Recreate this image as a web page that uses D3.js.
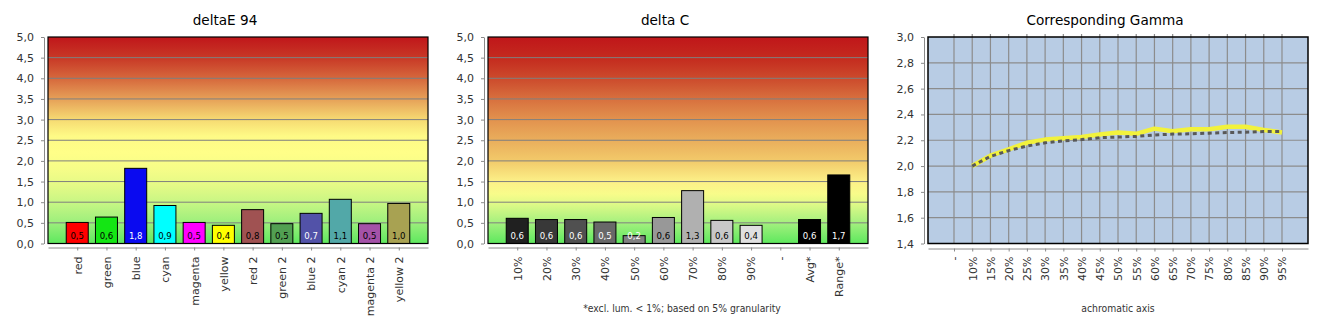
<!DOCTYPE html>
<html><head><meta charset="utf-8">
<script src="https://cdn.jsdelivr.net/npm/d3@7"></script>
<style>
html,body{margin:0;padding:0;background:#fff;}
svg{display:block;font-family:"DejaVu Sans",sans-serif;}
.cond{font-family:"DejaVu Sans Condensed","DejaVu Sans",sans-serif;font-stretch:condensed;}
</style></head>
<body>
<svg id="c" width="1330" height="330"></svg>
<script>
// ---------- data ----------
const deCategories = ["red","green","blue","cyan","magenta","yellow","red 2","green 2","blue 2","cyan 2","magenta 2","yellow 2"];
const deValues     = [0.51, 0.64, 1.82, 0.92, 0.51, 0.44, 0.82, 0.48, 0.73, 1.07, 0.48, 0.97];
const deColors     = ["#ff0000","#14e614","#0a0af0","#00ffff","#ff00ff","#ffff00","#a05252","#52a052","#5252a8","#52a8a8","#a452a8","#a8a252"];
const deLabelCol   = ["#000","#000","#fff","#000","#000","#000","#000","#000","#fff","#000","#000","#000"];

const dcCategories = ["10%","20%","30%","40%","50%","60%","70%","80%","90%","-","Avg*","Range*"];
const dcValues     = [0.61, 0.58, 0.58, 0.52, 0.19, 0.63, 1.28, 0.56, 0.44, null, 0.58, 1.66];
const dcColors     = ["#202020","#383838","#505050","#686868","#808080","#989898","#b0b0b0","#c8c8c8","#e0e0e0","#000","#000000","#000000"];
const dcLabelCol   = ["#fff","#fff","#fff","#fff","#fff","#000","#000","#000","#000","#000","#fff","#fff"];

const barTicks = [0,0.5,1,1.5,2,2.5,3,3.5,4,4.5,5];

const gCategories = ["-","10%","15%","20%","25%","30%","35%","40%","45%","50%","55%","60%","65%","70%","75%","80%","85%","90%","95%"];
const gMeasured   = [null,2.00,2.08,2.13,2.18,2.205,2.215,2.225,2.245,2.26,2.25,2.29,2.27,2.285,2.285,2.305,2.305,2.28,2.26];
const gReference  = [null,2.00,2.075,2.12,2.155,2.18,2.195,2.205,2.22,2.225,2.23,2.24,2.248,2.25,2.255,2.26,2.262,2.268,2.268];
const gTicks = [1.4,1.6,1.8,2.0,2.2,2.4,2.6,2.8,3.0];

const titles = ["deltaE 94","delta C","Corresponding Gamma"];
const footDC = "*excl. lum. < 1%; based on 5% granularity";
const footG  = "achromatic axis";

// ---------- helpers ----------
const svg = d3.select("#c");
const defs = svg.append("defs");
const fmt = v => d3.format(".1f")(v).replace(".", ",");
const TOP = 37, BOT = 243.5, PL = 48, PR = 428;

function gradient(id, stops){
  const g = defs.append("linearGradient").attr("id", id)
    .attr("gradientUnits","userSpaceOnUse").attr("x1",0).attr("x2",0).attr("y1",TOP).attr("y2",BOT);
  stops.forEach(s => g.append("stop").attr("offset", (1 - s[0]/5)).attr("stop-color", s[1]));
}
gradient("g1", [[5,"#c0161a"],[4.5,"#c83826"],[4,"#d6683c"],[3.5,"#e6a058"],[3,"#f6da72"],[2.6,"#fefa86"],[2.2,"#ffff88"],[1.8,"#f6fd88"],[1.4,"#e4fa86"],[1,"#c8f684"],[0.5,"#9cef7c"],[0,"#5ee85e"]]);
gradient("g2", [[5,"#c0161a"],[4.5,"#c42a1e"],[4,"#cc4a2c"],[3.5,"#d8703e"],[3,"#e2924e"],[2.5,"#eaae5c"],[2,"#f2ca6a"],[1.5,"#fcf088"],[1.2,"#f8fc8a"],[1,"#e4fa88"],[0.5,"#a4f07e"],[0,"#5ee85e"]]);

function styleAxis(g){
  g.selectAll("path.domain").attr("stroke","#8a8a8a");
  g.selectAll(".tick line").attr("stroke","#8a8a8a");
  g.selectAll(".tick text").attr("fill","#333").attr("font-size",11).attr("font-family","DejaVu Sans");
}

function title(off, t){
  svg.append("text").attr("x", off+225).attr("y", 25).attr("text-anchor","middle")
    .attr("font-size",13.6).attr("fill","#000").text(t);
}

function barPanel(off, cats, vals, cols, lcols, grad, foot){
  const x = d3.scalePoint().domain(cats).range([off+PL, off+PR]).padding(1);
  const y = d3.scaleLinear().domain([0,5]).range([BOT, TOP]);
  const g = svg.append("g");
  g.append("rect").attr("x", off+PL).attr("y", TOP).attr("width", PR-PL).attr("height", BOT-TOP)
    .attr("fill", `url(#${grad})`);
  g.selectAll("line.grid").data(barTicks.slice(1,-1)).join("line")
    .attr("x1", off+PL).attr("x2", off+PR).attr("y1", d=>y(d)).attr("y2", d=>y(d))
    .attr("stroke","#7f7f7f").attr("stroke-width",1);
  const data = cats.map((c,i)=>({c, v:vals[i], col:cols[i], lc:lcols[i]})).filter(d=>d.v!=null);
  const bw = 22;
  g.selectAll("rect.bar").data(data).join("rect")
    .attr("x", d=>x(d.c)-bw/2).attr("width", bw)
    .attr("y", d=>y(d.v)).attr("height", d=>y(0)-y(d.v))
    .attr("fill", d=>d.col).attr("stroke","#000").attr("stroke-width",1);
  g.selectAll("text.lab").data(data).join("text").attr("class","cond")
    .attr("x", d=>x(d.c)).attr("y", y(0)-4.5).attr("text-anchor","middle")
    .attr("font-size",9.5).attr("fill", d=>d.lc).text(d=>fmt(d.v));
  g.append("rect").attr("x", off+PL).attr("y", TOP).attr("width", PR-PL).attr("height", BOT-TOP)
    .attr("fill","none").attr("stroke","#000").attr("stroke-width",1.2);
  // axes
  const ya = svg.append("g").attr("transform",`translate(${off+44},0)`)
    .call(d3.axisLeft(y).tickValues(barTicks).tickFormat(fmt).tickSize(3).tickSizeOuter(0).tickPadding(7));
  styleAxis(ya);
  const xa = svg.append("g").attr("transform",`translate(0,247.5)`)
    .call(d3.axisBottom(x).tickSize(3).tickSizeOuter(0));
  styleAxis(xa);
  xa.selectAll(".tick text").attr("transform","rotate(-90)").attr("x",-9).attr("y",0)
    .attr("dy","0.35em").attr("text-anchor","end");
  if (foot) svg.append("text").attr("class","cond").attr("x", off+242).attr("y",312)
    .attr("text-anchor","middle").attr("font-size",10.3).attr("fill","#333").text(foot);
}

barPanel(0, deCategories, deValues, deColors, deLabelCol, "g1", null);
barPanel(440, dcCategories, dcValues, dcColors, dcLabelCol, "g2", footDC);

// ---------- gamma panel ----------
(function(){
  const off = 880;
  const x = d3.scalePoint().domain(gCategories).range([off+PL, off+PR]).padding(1.427);
  const y = d3.scaleLinear().domain([1.4,3.0]).range([BOT, TOP]);
  const g = svg.append("g");
  g.append("rect").attr("x", off+PL).attr("y", TOP).attr("width", PR-PL).attr("height", BOT-TOP).attr("fill","#b8cce4");
  g.selectAll("line.hg").data(gTicks.slice(1,-1)).join("line")
    .attr("x1", off+PL).attr("x2", off+PR).attr("y1", d=>y(d)).attr("y2", d=>y(d))
    .attr("stroke","#8c8c8c").attr("stroke-width",1.2);
  g.selectAll("line.vg").data(gCategories).join("line")
    .attr("x1", d=>x(d)).attr("x2", d=>x(d)).attr("y1", TOP-3).attr("y2", BOT)
    .attr("stroke","#8c8c8c").attr("stroke-width",1.2);
  const line = arr => d3.line().defined((d,i)=>arr[i]!=null)
    .x((d,i)=>x(gCategories[i])).y((d,i)=>y(arr[i]))(arr);
  g.append("path").attr("d", line(gMeasured)).attr("fill","none")
    .attr("stroke","#f2f23c").attr("stroke-width",4.5).attr("stroke-linejoin","round");
  g.append("path").attr("d", line(gReference)).attr("fill","none")
    .attr("stroke","#585858").attr("stroke-width",3).attr("stroke-dasharray","4,3.5");
  g.append("rect").attr("x", off+PL).attr("y", TOP).attr("width", PR-PL).attr("height", BOT-TOP)
    .attr("fill","none").attr("stroke","#000").attr("stroke-width",1.5);
  const ya = svg.append("g").attr("transform",`translate(${off+44},0)`)
    .call(d3.axisLeft(y).tickValues(gTicks).tickFormat(fmt).tickSize(3).tickSizeOuter(0).tickPadding(7));
  styleAxis(ya);
  const xa = svg.append("g").attr("transform",`translate(0,248.5)`)
    .call(d3.axisBottom(x).tickSize(3).tickSizeOuter(0));
  styleAxis(xa);
  xa.selectAll(".tick text").attr("transform","rotate(-90)").attr("x",-8).attr("y",0)
    .attr("dy","0.35em").attr("text-anchor","end");
  svg.append("text").attr("class","cond").attr("x", off+238).attr("y",312)
    .attr("text-anchor","middle").attr("font-size",10.3).attr("fill","#333").text(footG);
})();

titles.forEach((t,i)=>title(i*440, t));
</script>
</body></html>
